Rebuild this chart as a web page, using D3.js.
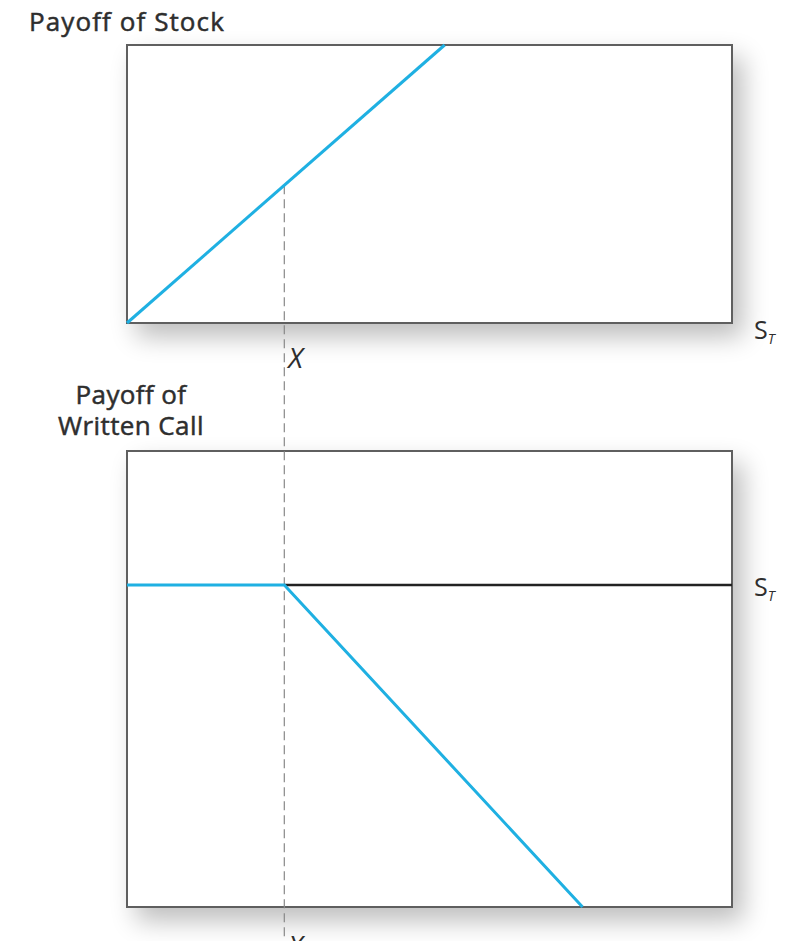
<!DOCTYPE html>
<html>
<head>
<meta charset="utf-8">
<script src="https://cdn.jsdelivr.net/npm/d3@7"></script>
<style>
  html, body { margin: 0; padding: 0; background: #fff; }
  svg { display: block; }
</style>
</head>
<body>
<svg id="chart" width="791" height="941"></svg>
<script>
// Stock price at expiration (S_T) and the strike price X
const strike = 26;

// Payoff of holding the stock: a 45-degree line from the origin
const stockS = [0, 52.5];
const stockPayoff = [0, 52.5];

// Payoff of a written call: flat at zero up to X, then falls one-for-one
const callS = [0, 26, 75.3];
const callPayoff = [0, 0, -49.3];

// Text labels
const stockTitle = ["Payoff of Stock"];
const callTitle = ["Payoff of", "Written Call"];
const strikeLabel = "X";
const axisLabel = "S";
const axisSub = "T";

const W = 791, H = 941;
const svg = d3.select("#chart");
const blue = "#1fb0e2";
const font = "'Open Sans', Lato, sans-serif";
const ink = "#2e2e2e";

const defs = svg.append("defs");
const shadow = defs.append("filter").attr("id", "shadow")
  .attr("x", "-15%").attr("y", "-15%").attr("width", "140%").attr("height", "140%");
shadow.append("feGaussianBlur").attr("in", "SourceAlpha").attr("stdDeviation", 13).attr("result", "blur");
shadow.append("feOffset").attr("in", "blur").attr("dx", 10).attr("dy", 13).attr("result", "off");
shadow.append("feComponentTransfer").attr("in", "off").attr("result", "soft")
  .append("feFuncA").attr("type", "linear").attr("slope", 0.26);
const merge = shadow.append("feMerge");
merge.append("feMergeNode").attr("in", "soft");
merge.append("feMergeNode").attr("in", "SourceGraphic");

// Shared horizontal scale for both panels
const x = d3.scaleLinear().domain([0, 100]).range([127, 732]);

// Panel scales
const yTop = d3.scaleLinear().domain([0, 52.5]).range([323, 45]);
const yBot = d3.scaleLinear().domain([-49.3, 20.5]).range([907, 451]);

function panel(yScale) {
  const [d0, d1] = yScale.domain();
  svg.append("rect")
    .attr("x", x(0)).attr("y", yScale(d1))
    .attr("width", x(100) - x(0)).attr("height", yScale(d0) - yScale(d1))
    .attr("fill", "#fff")
    .attr("stroke", "#5e5e5e")
    .attr("stroke-width", 2)
    .attr("filter", "url(#shadow)");
}
panel(yTop);
panel(yBot);

// Horizontal S_T axis in the lower panel (zero payoff)
svg.append("line")
  .attr("x1", x(strike)).attr("x2", x(100))
  .attr("y1", yBot(0)).attr("y2", yBot(0))
  .attr("stroke", "#222").attr("stroke-width", 2.5);

// Dashed guide at the strike price, running from the stock line downward
svg.append("line")
  .attr("x1", x(strike)).attr("x2", x(strike))
  .attr("y1", yTop(strike)).attr("y2", H)
  .attr("stroke", "#888").attr("stroke-width", 1.2)
  .attr("stroke-dasharray", "9,5");

const line = (xs, ys, yScale) => d3.line()
  .x((d, i) => x(xs[i]))
  .y((d, i) => yScale(ys[i]))(xs);

svg.append("path")
  .attr("d", line(stockS, stockPayoff, yTop))
  .attr("fill", "none").attr("stroke", blue).attr("stroke-width", 3);

svg.append("path")
  .attr("d", line(callS, callPayoff, yBot))
  .attr("fill", "none").attr("stroke", blue).attr("stroke-width", 3)
  .attr("stroke-linejoin", "miter");

// Titles (regular weight with a thin outline for a medium look)
svg.append("text")
  .attr("x", 29).attr("y", 31)
  .attr("font-family", font).attr("font-size", 26)
  .attr("letter-spacing", 1.1)
  .attr("fill", ink).attr("stroke", ink).attr("stroke-width", 0.5)
  .text(stockTitle[0]);

const ct = svg.append("text")
  .attr("font-family", font).attr("font-size", 26)
  .attr("letter-spacing", 0.4)
  .attr("fill", ink).attr("stroke", ink).attr("stroke-width", 0.5)
  .attr("text-anchor", "middle");
callTitle.forEach((t, i) => {
  ct.append("tspan").attr("x", 131).attr("y", 404 + i * 31).text(t);
});

// Strike labels
function strikeText(yPos) {
  svg.append("text")
    .attr("x", x(strike) + 4).attr("y", yPos)
    .attr("font-family", font).attr("font-size", 28)
    .attr("font-style", "italic").attr("fill", ink)
    .text(strikeLabel);
}
strikeText(368);
strikeText(956);

// S_T axis labels
function stText(yPos) {
  const t = svg.append("text")
    .attr("x", 754).attr("y", yPos)
    .attr("font-family", font).attr("font-size", 25).attr("fill", ink);
  t.append("tspan").text(axisLabel);
  t.append("tspan").attr("dy", 5).attr("font-size", 14)
    .attr("font-style", "italic").text(axisSub);
}
stText(339);
stText(596);
</script>
</body>
</html>
